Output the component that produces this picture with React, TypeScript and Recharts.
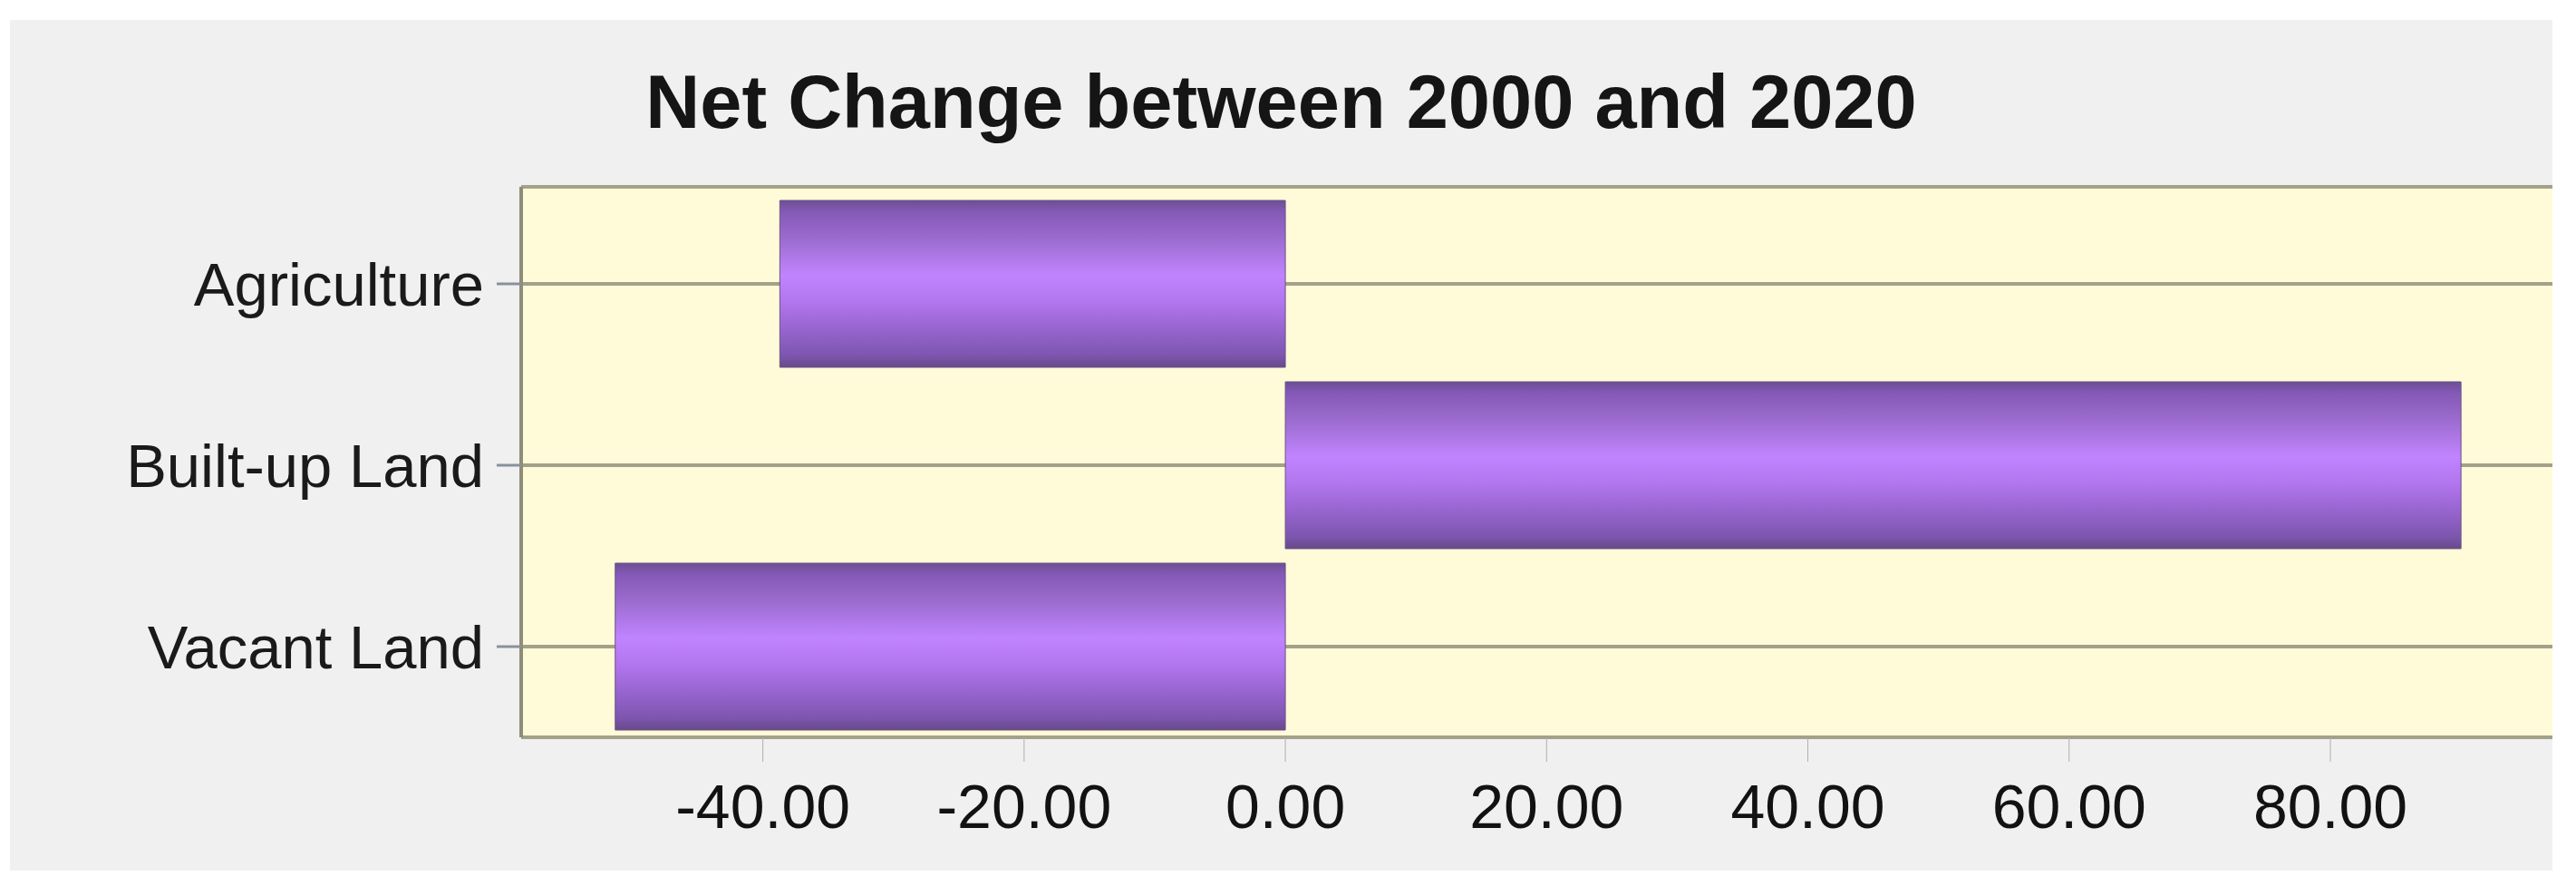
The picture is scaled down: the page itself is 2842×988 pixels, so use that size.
import { Bar, BarChart, CartesianGrid, XAxis, YAxis } from 'recharts';

// Net change in land use, 2000 -> 2020
const categories = ['Agriculture', 'Built-up Land', 'Vacant Land'];
const netChange = [-38.7, 90.0, -51.3];
const xTicks = [-40, -20, 0, 20, 40, 60, 80];
const xDomain = [-58.5, 97];

const data = categories.map((name, i) => ({ name, value: netChange[i] }));

const FONT = '"Liberation Sans", Arial, sans-serif';
const GRID = '#a3a189';

export default function App() {
  return (
    <div
      style={{
        position: 'absolute',
        left: 0,
        top: 0,
        width: 2842,
        height: 988,
        background: '#ffffff',
        fontFamily: FONT,
      }}
    >
      <div
        style={{
          position: 'absolute',
          left: 11,
          top: 22,
          width: 2805,
          height: 938,
          background: '#f0f0f0',
        }}
      />
      <div
        style={{
          position: 'absolute',
          left: 11,
          top: 71,
          width: 2805,
          textAlign: 'center',
          fontSize: 83,
          lineHeight: '83px',
          fontWeight: 'bold',
          color: '#151515',
        }}
      >
        Net Change between 2000 and 2020
      </div>
      <div style={{ position: 'absolute', left: 0, top: 0 }}>
        <BarChart
          layout="vertical"
          width={2842}
          height={988}
          data={data}
          margin={{ top: 206, right: 26, bottom: 75, left: 175 }}
          barCategoryGap="4%"
        >
          <defs>
            <linearGradient id="barFill" x1="0" y1="0" x2="0" y2="1">
              <stop offset="0%" stopColor="#6c4f94" />
              <stop offset="7%" stopColor="#8559b8" />
              <stop offset="22%" stopColor="#9a6bcd" />
              <stop offset="45%" stopColor="#c184ff" />
              <stop offset="62%" stopColor="#b074ec" />
              <stop offset="80%" stopColor="#9262c9" />
              <stop offset="93%" stopColor="#7d55ae" />
              <stop offset="100%" stopColor="#664a88" />
            </linearGradient>
          </defs>
          <CartesianGrid
            vertical={false}
            stroke={GRID}
            strokeWidth={4}
            fill="#fffbd8"
            fillOpacity={1}
          />
          <XAxis
            type="number"
            dataKey="value"
            domain={xDomain}
            ticks={xTicks}
            allowDataOverflow
            tickFormatter={(v: number) => v.toFixed(2)}
            axisLine={false}
            tickLine={{ stroke: '#b0b0b0', strokeWidth: 1 }}
            tickSize={27}
            tickMargin={25}
            height={100}
            tick={{ fontSize: 68, fill: '#121212', fontFamily: FONT }}
          />
          <XAxis
            xAxisId="top"
            orientation="top"
            type="number"
            domain={xDomain}
            allowDataOverflow
            height={0}
            tick={false}
            tickLine={false}
            axisLine={{ stroke: '#8e8d79', strokeWidth: 4 }}
          />
          <YAxis
            type="category"
            dataKey="name"
            width={400}
            padding={{ top: 7, bottom: 0 }}
            axisLine={{ stroke: '#8e8d79', strokeWidth: 4 }}
            tickLine={{ stroke: '#8a909c', strokeWidth: 3 }}
            tickSize={27}
            tickMargin={14}
            tick={{ fontSize: 67, fill: '#1a1a1a', fontFamily: FONT }}
          />
          <Bar
            dataKey="value"
            fill="url(#barFill)"
            stroke="#6b5288"
            strokeWidth={1}
            isAnimationActive={false}
          />
        </BarChart>
      </div>
    </div>
  );
}
